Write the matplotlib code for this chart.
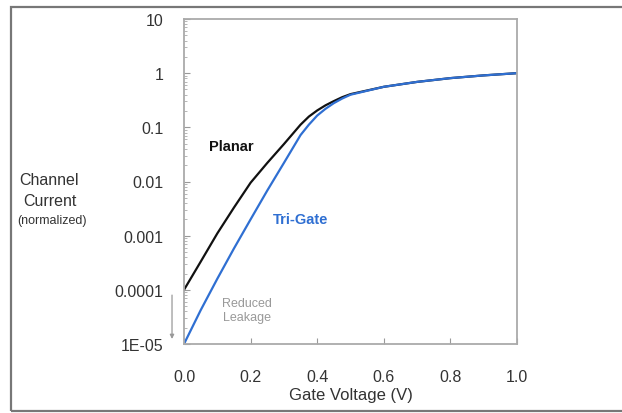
import matplotlib.pyplot as plt
from matplotlib.patches import Rectangle

plt.rcParams['font.family'] = ['Liberation Sans', 'DejaVu Sans']

# gate voltage (V)
voltage = [0.0, 0.05, 0.1, 0.15, 0.2, 0.25, 0.3, 0.35, 0.375, 0.4, 0.425, 0.45,
           0.475, 0.5, 0.6, 0.7, 0.8, 0.9, 1.0]
# normalized channel current
planar = [1e-4, 3.3e-4, 1.1e-3, 3.3e-3, 9.5e-3, 0.022, 0.049, 0.112, 0.158, 0.205,
          0.255, 0.305, 0.36, 0.41, 0.56, 0.69, 0.81, 0.91, 1.0]
trigate = [1e-5, 4.2e-5, 1.6e-4, 5.8e-4, 2.0e-3, 6.8e-3, 0.022, 0.072, 0.112, 0.165,
           0.22, 0.28, 0.34, 0.40, 0.56, 0.69, 0.81, 0.91, 1.0]

yticks = [1e-5, 1e-4, 1e-3, 1e-2, 0.1, 1, 10]
ytick_labels = ["1E-05", "0.0001", "0.001", "0.01", "0.1", "1", "10"]
xticks = [0.0, 0.2, 0.4, 0.6, 0.8, 1.0]
xtick_labels = ["0.0", "0.2", "0.4", "0.6", "0.8", "1.0"]

fig = plt.figure(figsize=(6.22, 4.14), dpi=100)
ax = fig.add_axes([184/622, 1-345/414, 333/622, 325/414])

ax.plot(voltage, planar, color='#111111', lw=1.6)
ax.plot(voltage, trigate, color='#2f6fd2', lw=1.6)

ax.set_yscale('log')
ax.set_xlim(0, 1.0)
ax.set_ylim(1e-5, 10)
ax.set_yticks(yticks)
ax.set_yticklabels(ytick_labels)
ax.set_xticks(xticks)
ax.set_xticklabels(xtick_labels)

for s in ax.spines.values():
    s.set_color('#aaaaaa')
    s.set_linewidth(1.3)
ax.tick_params(axis='y', which='major', direction='in', length=4, color='#999999',
               labelsize=11.5, labelcolor='#333333', pad=15)
ax.tick_params(axis='y', which='minor', direction='in', length=2.5, color='#aaaaaa')
ax.tick_params(axis='x', direction='in', length=4, color='#999999',
               labelsize=11.5, labelcolor='#333333', pad=18)
ax.set_xlabel("Gate Voltage (V)", fontsize=12, color='#333333', labelpad=2)

# series labels
ax.text(0.141, 0.045, "Planar", fontsize=10.5, fontweight='bold', color='#111111',
        ha='center', va='center')
ax.text(0.351, 2.0e-3, "Tri-Gate", fontsize=10.5, fontweight='bold', color='#2f6fd2',
        ha='center', va='center')
ax.text(0.189, 4.3e-5, "Reduced\nLeakage", fontsize=9, color='#999999',
        ha='center', va='center', linespacing=1.25)

# leakage arrow
ax.annotate("", xy=(-0.036, 1.1e-5), xytext=(-0.036, 9e-5),
            xycoords=('axes fraction', 'data'), textcoords=('axes fraction', 'data'),
            arrowprops=dict(arrowstyle='-|>', color='#999999', lw=0.9,
                            mutation_scale=6), annotation_clip=False)

# y axis title
fig.text(49/622, 1-181/414, "Channel", fontsize=11.5, color='#333333', ha='center', va='center')
fig.text(50/622, 1-202/414, "Current", fontsize=11.5, color='#333333', ha='center', va='center')
fig.text(52/622, 1-221/414, "(normalized)", fontsize=9, color='#333333', ha='center', va='center')

# outer frame
fig.patches.append(Rectangle((11/622, 2/414), 1.2, 404/414, transform=fig.transFigure,
                             fill=False, edgecolor='#777777', lw=1.6))

fig.savefig("out.png", dpi=100)
